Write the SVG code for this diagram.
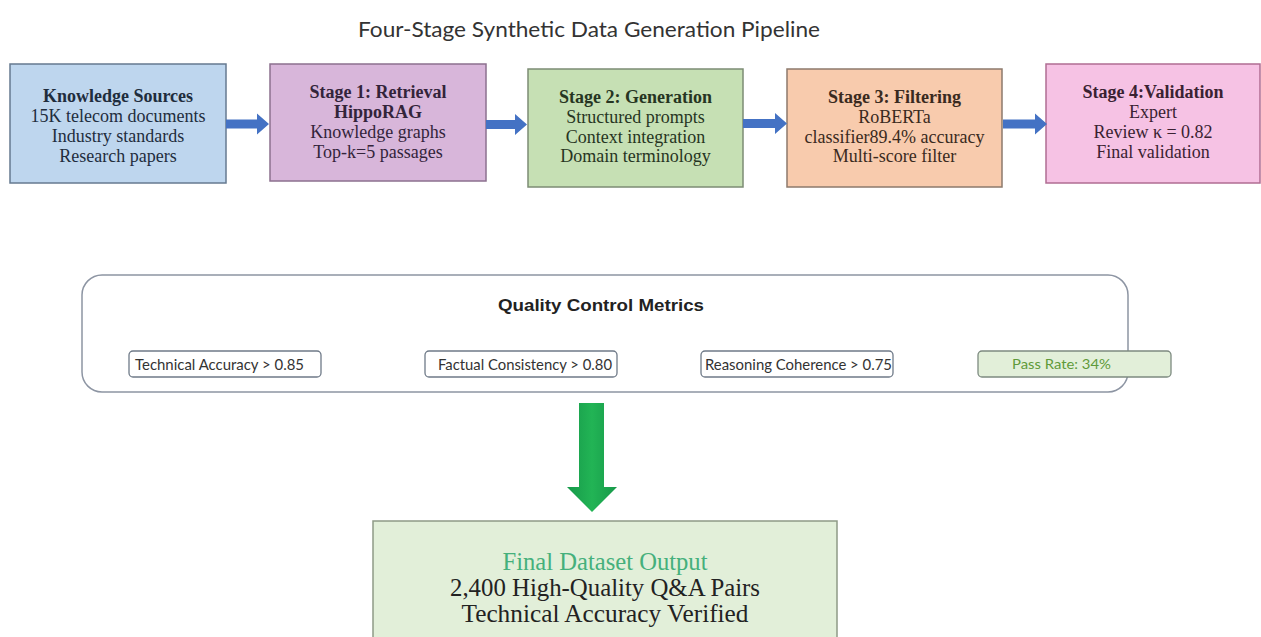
<svg xmlns="http://www.w3.org/2000/svg" width="1261" height="637" viewBox="0 0 1261 637">
<defs>
<style>
.bx{stroke-width:1.5}
.t{font-family:"Liberation Serif","Times New Roman",serif;font-size:18px;text-anchor:middle}
.b{font-weight:bold}
.m{font-family:Lato,"Open Sans",sans-serif;font-size:15px;fill:#333;text-anchor:middle}
.mb{fill:#fff;stroke:#6f7a88;stroke-width:1.3}
.arr{fill:#4472c4}
</style>
<linearGradient id="g" x1="0" y1="0" x2="1" y2="0">
<stop offset="0" stop-color="#17994a"/>
<stop offset="0.5" stop-color="#22b455"/>
<stop offset="1" stop-color="#17994a"/>
</linearGradient>
</defs>
<rect width="1261" height="637" fill="#fff"/>
<text x="589" y="37" font-family="Lato,'Open Sans',sans-serif" font-size="21" fill="#333" text-anchor="middle" textLength="462" lengthAdjust="spacingAndGlyphs">Four-Stage Synthetic Data Generation Pipeline</text>

<g id="knowledge-sources">
<rect class="bx" x="10" y="64" width="216" height="119" fill="#bed6ee" stroke="#667a90"/>
<g class="t" fill="#1f2d3d">
<text x="118" y="102" class="b">Knowledge Sources</text>
<text x="118" y="122">15K telecom documents</text>
<text x="118" y="142">Industry standards</text>
<text x="118" y="162">Research papers</text>
</g>
</g>

<g id="stage1">
<rect class="bx" x="270" y="64" width="216" height="117" fill="#d8b6da" stroke="#8c708f"/>
<g class="t" fill="#33243a">
<text x="378" y="98" class="b">Stage 1: Retrieval</text>
<text x="378" y="118" class="b">HippoRAG</text>
<text x="378" y="138">Knowledge graphs</text>
<text x="378" y="158">Top-k=5 passages</text>
</g>
</g>

<g id="stage2">
<rect class="bx" x="528" y="69" width="215" height="118" fill="#c6e0b4" stroke="#7c8c74"/>
<g class="t" fill="#263522">
<text x="635.5" y="103" class="b">Stage 2: Generation</text>
<text x="635.5" y="123">Structured prompts</text>
<text x="635.5" y="143">Context integration</text>
<text x="635.5" y="162">Domain terminology</text>
</g>
</g>

<g id="stage3">
<rect class="bx" x="787" y="69" width="215" height="118" fill="#f8cbad" stroke="#8d7a6c"/>
<g class="t" fill="#3a2a20">
<text x="894.5" y="103" class="b">Stage 3: Filtering</text>
<text x="894.5" y="123">RoBERTa</text>
<text x="894.5" y="143">classifier89.4% accuracy</text>
<text x="894.5" y="162">Multi-score filter</text>
</g>
</g>

<g id="stage4">
<rect class="bx" x="1046" y="64" width="214" height="119" fill="#f6c2e4" stroke="#b06d93"/>
<g class="t" fill="#3a2232">
<text x="1153" y="98" class="b">Stage 4:Validation</text>
<text x="1153" y="118">Expert</text>
<text x="1153" y="138">Review κ = 0.82</text>
<text x="1153" y="158">Final validation</text>
</g>
</g>

<g id="connectors">
<polygon class="arr" points="226,119.5 257,119.5 257,113.5 269,124 257,134.5 257,128.5 226,128.5"/>
<polygon class="arr" points="486,120 515,120 515,114 527,124.5 515,135 515,129 486,129"/>
<polygon class="arr" points="743,119 775,119 775,113 787,123.5 775,134 775,128 743,128"/>
<polygon class="arr" points="1003,119.5 1035,119.5 1035,113.5 1047,124 1035,134.5 1035,128.5 1003,128.5"/>
<polygon fill="url(#g)" points="579,403 604,403 604,487 617,487 592,512 567,487 579,487"/>
</g>

<g id="quality-control">
<rect x="82" y="275" width="1046" height="117" rx="20" ry="20" fill="#fff" stroke="#8d95a3" stroke-width="1.5"/>
<text x="601" y="311" font-family="'Liberation Sans',Arial,sans-serif" font-size="17" font-weight="bold" fill="#222" text-anchor="middle" textLength="206" lengthAdjust="spacingAndGlyphs">Quality Control Metrics</text>
<g id="metric-technical">
<rect class="mb" x="129" y="351" width="192" height="26" rx="4"/>
<text class="m" x="219.5" y="370" textLength="169" lengthAdjust="spacingAndGlyphs">Technical Accuracy &gt; 0.85</text>
</g>
<g id="metric-factual">
<rect class="mb" x="425" y="351" width="192" height="26" rx="4"/>
<text class="m" x="525" y="370" textLength="174" lengthAdjust="spacingAndGlyphs">Factual Consistency &gt; 0.80</text>
</g>
<g id="metric-reasoning">
<rect class="mb" x="701" y="351" width="192" height="26" rx="4"/>
<text class="m" x="798.5" y="370" textLength="187" lengthAdjust="spacingAndGlyphs">Reasoning Coherence &gt; 0.75</text>
</g>
<g id="metric-pass">
<rect x="978" y="351" width="193" height="26" rx="4" fill="#e2efd9" stroke="#7d8a80" stroke-width="1.3"/>
<text class="m" x="1061.5" y="369" style="fill:#5f9a3a;font-size:14px" textLength="99" lengthAdjust="spacingAndGlyphs">Pass Rate: 34%</text>
</g>
</g>

<g id="final-output">
<rect x="373" y="521" width="464" height="130" fill="#e2efd9" stroke="#8e9a86" stroke-width="1.5"/>
<g font-family="'Liberation Serif','Times New Roman',serif" font-size="25" text-anchor="middle">
<text x="605" y="570" fill="#45b07c" textLength="205" lengthAdjust="spacingAndGlyphs">Final Dataset Output</text>
<text x="605" y="596" fill="#222" textLength="310" lengthAdjust="spacingAndGlyphs">2,400 High-Quality Q&amp;A Pairs</text>
<text x="605" y="622" fill="#222" textLength="287" lengthAdjust="spacingAndGlyphs">Technical Accuracy Verified</text>
</g>
</g>
</svg>
